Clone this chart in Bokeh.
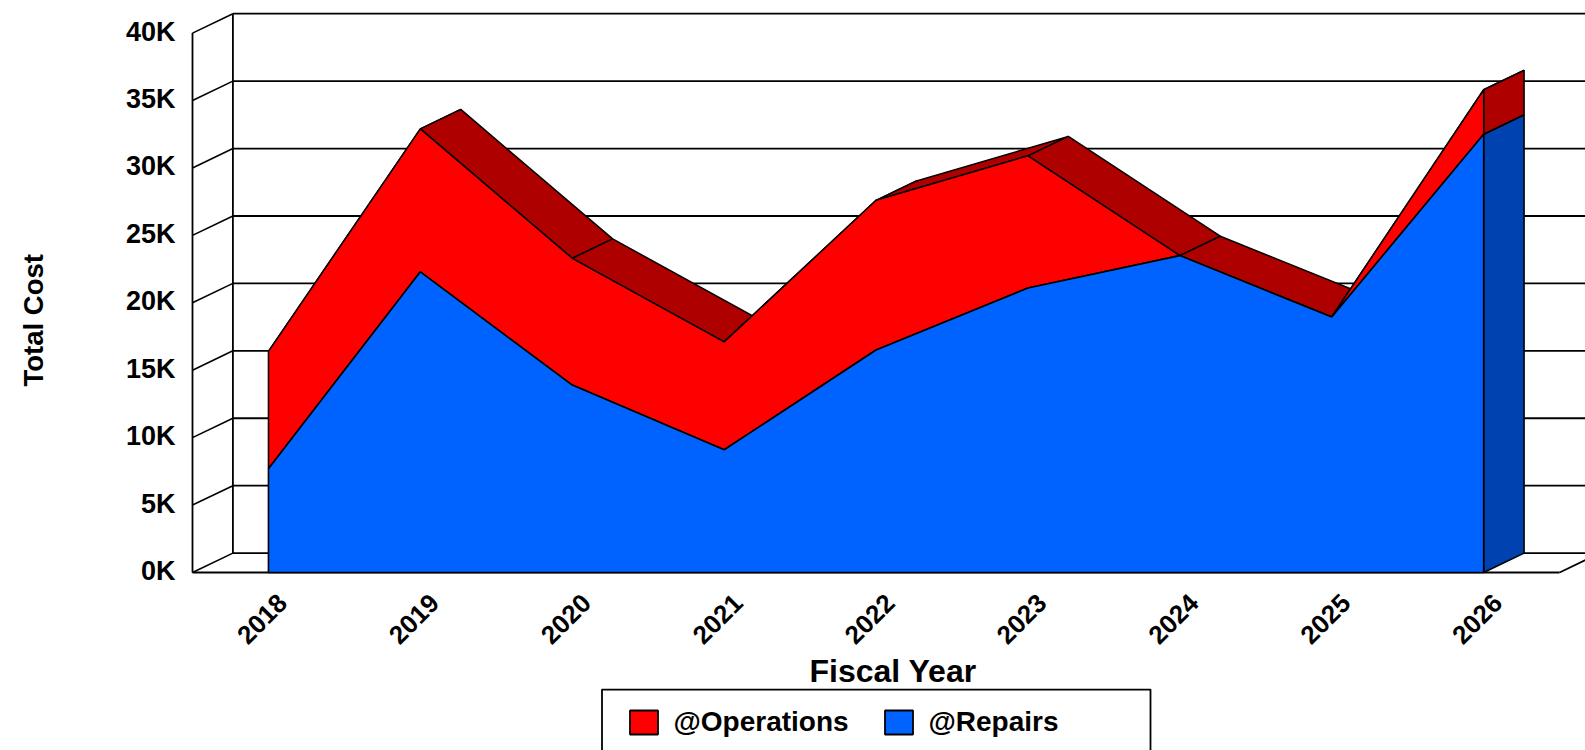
from bokeh.plotting import figure
from bokeh.layouts import column
from bokeh.models import Range1d, FixedTicker, Legend, LegendItem, LinearAxis, Title, BoxAnnotation
from bokeh.core.properties import value
from bokeh.embed import file_html
from bokeh.resources import INLINE
import math

years = [2018, 2019, 2020, 2021, 2022, 2023, 2024, 2025, 2026]
repairs = [7700, 22300, 13900, 9100, 16500, 21100, 23500, 18950, 32500]
operations = [8700, 10600, 9400, 8000, 11100, 9800, 0, 0, 3300]
y_ticks = [0, 5000, 10000, 15000, 20000, 25000, 30000, 35000, 40000]
y_labels = ["0K", "5K", "10K", "15K", "20K", "25K", "30K", "35K", "40K"]

RED, DARK_RED, BLUE, DARK_BLUE = "#FF0000", "#AF0000", "#0062FF", "#0042B0"
FONT = "Liberation Sans"
PX_YEAR, PX_K = 151.9, 13.485
DX, DY = 40.4 / PX_YEAR, 19.4 / PX_K * 1000
X0 = years[0] - 0.5
X1 = years[-1] + 0.5

W, H = 1585, 688
BL, BT, BB = 190, 9, 114
x_start = X0 - 2 / PX_YEAR
x_end = x_start + (W - BL) / PX_YEAR
y_start = -2 / PX_K * 1000
y_end = y_start + (H - BT - BB) / PX_K * 1000

p = figure(width=W, height=H, output_backend="svg", toolbar_location=None,
           x_range=Range1d(x_start, x_end), y_range=Range1d(y_start, y_end),
           min_border_left=BL, min_border_top=BT, min_border_bottom=BB, min_border_right=0,
           background_fill_color="white", border_fill_color="white",
           x_axis_type=None, y_axis_type=None)
p.outline_line_color = None
p.grid.visible = False
LABEL_SHIFT = 14 / PX_YEAR
YLABEL_SHIFT = 1.5 / PX_K * 1000
p.extra_x_ranges["labels"] = Range1d(x_start - LABEL_SHIFT, x_end - LABEL_SHIFT)
p.extra_y_ranges["labels"] = Range1d(y_start - YLABEL_SHIFT, y_end - YLABEL_SHIFT)

# Walls and floor of the 3-D box
LW = 1.8
p.segment(x0=[X0] * len(y_ticks), y0=y_ticks, x1=[X0 + DX] * len(y_ticks), y1=[t + DY for t in y_ticks],
          line_color="black", line_width=1.6)
p.segment(x0=[X0 + DX] * len(y_ticks), y0=[t + DY for t in y_ticks], x1=[x_end + 1] * len(y_ticks),
          y1=[t + DY for t in y_ticks], line_color="black", line_width=LW)
p.segment(x0=[X0, X0 + DX, X0, X1], y0=[0, DY, 0, 0],
          x1=[X0, X0 + DX, X1, X1 + DX], y1=[y_ticks[-1], y_ticks[-1] + DY, 0, DY],
          line_color="black", line_width=LW)

tops = [r + o for r, o in zip(repairs, operations)]

# Depth faces
for i in range(len(years) - 1):
    fx = [years[i], years[i + 1], years[i + 1] + DX, years[i] + DX]
    fy = [tops[i], tops[i + 1], tops[i + 1] + DY, tops[i] + DY]
    p.patch(fx, fy, fill_color=DARK_RED, line_color="black", line_width=1.5)
xe = years[-1]
p.patch([xe, xe + DX, xe + DX, xe], [0, DY, repairs[-1] + DY, repairs[-1]],
        fill_color=DARK_BLUE, line_color="black", line_width=1.6)
p.patch([xe, xe + DX, xe + DX, xe], [repairs[-1], repairs[-1] + DY, tops[-1] + DY, tops[-1]],
        fill_color=DARK_RED, line_color="black", line_width=1.6)

# Front faces
ops_x, ops_y = years + years[::-1], tops + repairs[::-1]
rep_x, rep_y = years + years[::-1], repairs + [0] * len(years)
p.patch(ops_x, ops_y, fill_color=RED, line_color="black", line_width=1.5)
p.patch(rep_x, rep_y, fill_color=BLUE, line_color="black", line_width=1.6)

# Axes
yax = LinearAxis(ticker=FixedTicker(ticks=y_ticks), y_range_name="labels",
                 major_label_overrides=dict(zip(y_ticks, y_labels)),
                 axis_line_color=None, major_tick_line_color=None, minor_tick_line_color=None,
                 major_label_text_font=FONT, major_label_text_font_style="bold",
                 major_label_text_font_size="27px", major_label_text_color="black",
                 major_label_standoff=9)
p.add_layout(yax, "left")

xax = LinearAxis(ticker=FixedTicker(ticks=years), x_range_name="labels",
                 axis_line_color=None, major_tick_line_color=None, minor_tick_line_color=None,
                 major_label_orientation=math.pi / 4,
                 major_label_text_font=FONT, major_label_text_font_style="bold",
                 major_label_text_font_size="26px", major_label_text_color="black",
                 major_label_standoff=18)
p.add_layout(xax, "below")

# Axis titles
p.add_layout(Title(text="Fiscal Year", align="left", offset=619, standoff=-10,
                   text_font=FONT, text_font_style="bold", text_font_size="32px", text_color="black"), "below")
# blank spacer panel that pushes "Total Cost" out towards the page edge
p.add_layout(Title(text=" ", standoff=52, text_font_size="10px", text_color="white"), "left")
p.add_layout(Title(text="Total Cost", align="left", offset=188, standoff=18,
                   text_font=FONT, text_font_style="bold", text_font_size="27.5px", text_color="black"), "left")

# Legend strip: a second figure whose scales run in page pixels
STRIP_H = 750 - H
p2 = figure(width=W, height=STRIP_H, output_backend="svg", toolbar_location=None,
            x_range=Range1d(BL, W), y_range=Range1d(750, H),
            min_border=0, x_axis_type=None, y_axis_type=None,
            background_fill_color="white", border_fill_color="white")
p2.outline_line_color = None
p2.grid.visible = False
s_ops = p2.patch(ops_x, ops_y, fill_color=RED, line_color="black", line_width=1.8)
s_rep = p2.patch(rep_x, rep_y, fill_color=BLUE, line_color="black", line_width=1.8)
p2.add_layout(BoxAnnotation(left=601.5, right=1150, top=689, bottom=770,
                            fill_color="white", fill_alpha=1, line_color="black", line_alpha=1, line_width=1.8))
legend = Legend(items=[LegendItem(label=value("@Operations"), renderers=[s_ops]),
                       LegendItem(label=value("@Repairs"), renderers=[s_rep])],
                orientation="horizontal", location=(625.5 - BL, 12),
                padding=0, margin=0, spacing=17, label_standoff=13, label_width=190,
                glyph_width=35, glyph_height=30,
                border_line_color=None, background_fill_alpha=0,
                label_text_font=FONT, label_text_font_style="bold", label_text_font_size="28px",
                label_text_color="black", label_height=24)
p2.add_layout(legend, "center")

open("out.html", "w").write(file_html(column(p, p2, spacing=0), INLINE))
